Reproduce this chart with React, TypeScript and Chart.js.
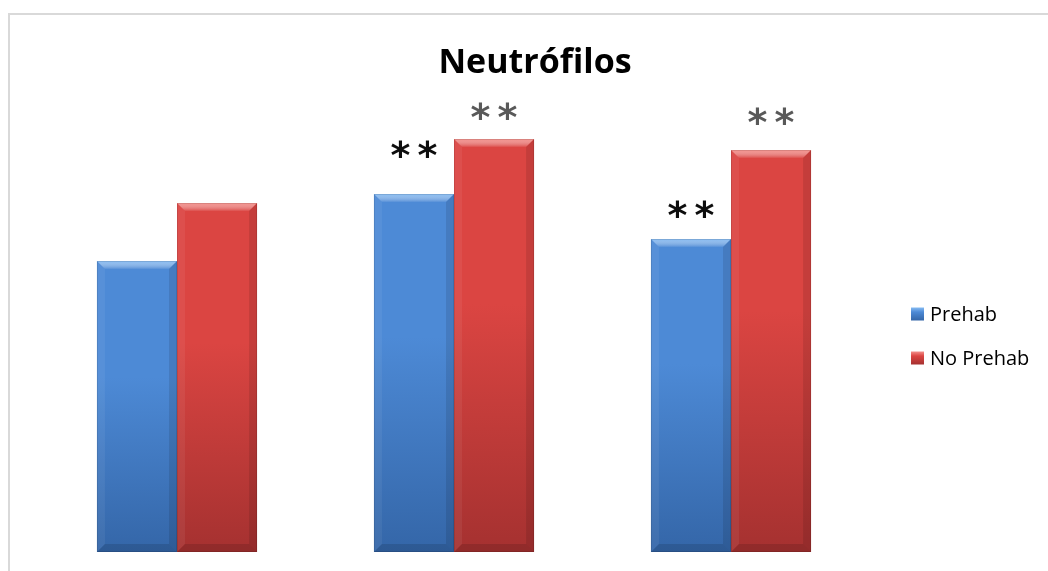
import React, { useEffect, useRef } from 'react';
import { Chart, registerables } from 'chart.js';

Chart.register(...registerables);

// ---- data ----
const chartTitle = 'Neutrófilos';
const categories = ['1', '2', '3'];
const seriesNames = ['Prehab', 'No Prehab'];
const prehab = [2.91, 3.58, 3.13];
const noPrehab = [3.49, 4.13, 4.02];
// significance markers drawn above each bar
const prehabMarks = ['', '**', '**'];
const noPrehabMarks = ['', '**', '**'];

// ---- styles ----
const palettes = [
  { top: '#4d8ad6', bottom: '#3466a8', light: '#86bbf2', mark: '#0d0d0d' },
  { top: '#db4542', bottom: '#a53130', light: '#f3908b', mark: '#595959' },
];
const markGaps = [
  [30, 45, 30],
  [30, 28, 34],
];
const BEVEL = 8;

const W = 1048;
const H = 571;

function barGradient(c: CanvasRenderingContext2D, top: number, bottom: number, p: any) {
  const g = c.createLinearGradient(0, top, 0, bottom);
  g.addColorStop(0, p.top);
  g.addColorStop(0.4, p.top);
  g.addColorStop(1, p.bottom);
  return g;
}

const framePlugin = {
  id: 'frame',
  beforeDraw(chart: any) {
    const c = chart.ctx;
    c.save();
    c.fillStyle = '#ffffff';
    c.fillRect(0, 0, W, H);
    c.strokeStyle = '#d9d9d9';
    c.lineWidth = 2;
    c.strokeRect(9, 14, W + 20, H + 20);
    c.restore();
  },
};

const bevelPlugin = {
  id: 'bevel',
  afterDatasetsDraw(chart: any) {
    const c = chart.ctx;
    chart.data.datasets.forEach((_: any, di: number) => {
      const meta = chart.getDatasetMeta(di);
      meta.data.forEach((bar: any) => {
        const { x, y, base, width } = bar.getProps(['x', 'y', 'base', 'width'], true);
        const l = x - width / 2;
        const r = x + width / 2;
        const t = y;
        const b = base;
        const p = palettes[di];
        c.save();
        // top bevel
        const tg = c.createLinearGradient(0, t, 0, t + BEVEL);
        tg.addColorStop(0, p.light);
        tg.addColorStop(1, 'rgba(255,255,255,0.05)');
        c.beginPath();
        c.moveTo(l, t);
        c.lineTo(r, t);
        c.lineTo(r - BEVEL, t + BEVEL);
        c.lineTo(l + BEVEL, t + BEVEL);
        c.closePath();
        c.fillStyle = tg;
        c.fill();
        // left bevel
        c.beginPath();
        c.moveTo(l, t);
        c.lineTo(l + BEVEL, t + BEVEL);
        c.lineTo(l + BEVEL, b - BEVEL);
        c.lineTo(l, b);
        c.closePath();
        c.fillStyle = 'rgba(255,255,255,0.06)';
        c.fill();
        // right bevel
        c.beginPath();
        c.moveTo(r, t);
        c.lineTo(r - BEVEL, t + BEVEL);
        c.lineTo(r - BEVEL, b - BEVEL);
        c.lineTo(r, b);
        c.closePath();
        c.fillStyle = 'rgba(0,0,0,0.10)';
        c.fill();
        // bottom bevel
        c.beginPath();
        c.moveTo(l, b);
        c.lineTo(l + BEVEL, b - BEVEL);
        c.lineTo(r - BEVEL, b - BEVEL);
        c.lineTo(r, b);
        c.closePath();
        c.fillStyle = 'rgba(0,0,0,0.12)';
        c.fill();
        // thin outer edge
        c.strokeStyle = 'rgba(0,0,0,0.10)';
        c.lineWidth = 1;
        c.strokeRect(l + 0.5, t + 0.5, width - 1, b - t - 1);
        c.restore();
      });
    });
  },
};

function drawStars(c: CanvasRenderingContext2D, text: string, cx: number, cy: number, color: string) {
  c.save();
  c.font = 'bold 38px "DejaVu Sans"';
  c.fillStyle = color;
  c.textAlign = 'center';
  c.textBaseline = 'alphabetic';
  const m = c.measureText('*');
  const base = cy + (m.actualBoundingBoxAscent - m.actualBoundingBoxDescent) / 2;
  const chars = text.split('');
  const step = 27;
  chars.forEach((ch, i) => {
    const dx = (i - (chars.length - 1) / 2) * step;
    c.fillText(ch, cx + dx, base);
  });
  c.restore();
}

const textPlugin = {
  id: 'texts',
  afterDraw(chart: any) {
    const c = chart.ctx;
    c.save();
    // title
    c.font = 'bold 34px "Open Sans"';
    c.fillStyle = '#000000';
    c.textAlign = 'center';
    c.textBaseline = 'alphabetic';
    c.fillText(chartTitle, 535, 73);

    // significance markers
    const marks = [prehabMarks, noPrehabMarks];
    marks.forEach((list, di) => {
      const meta = chart.getDatasetMeta(di);
      list.forEach((txt, i) => {
        if (!txt) return;
        const bar = meta.data[i];
        drawStars(c, txt, bar.x, bar.y - markGaps[di][i], palettes[di].mark);
      });
    });

    // legend
    const ys = [314, 358];
    seriesNames.forEach((name, di) => {
      const p = palettes[di];
      const cy = ys[di];
      const g = c.createLinearGradient(0, cy - 6.5, 0, cy + 6.5);
      g.addColorStop(0, p.light);
      g.addColorStop(0.35, p.top);
      g.addColorStop(1, p.bottom);
      c.fillStyle = g;
      c.fillRect(911, cy - 6.5, 13, 13);
      c.font = '20px "Open Sans"';
      c.fillStyle = '#000000';
      c.textAlign = 'left';
      c.textBaseline = 'middle';
      c.fillText(name, 930, cy + 1);
    });
    c.restore();
  },
};

export default function App() {
  const ref = useRef<HTMLCanvasElement>(null);

  useEffect(() => {
    if (!ref.current) return;
    const series = [prehab, noPrehab];
    const chart = new Chart(ref.current, {
      type: 'bar',
      data: {
        labels: categories,
        datasets: series.map((values, di) => ({
          label: seriesNames[di],
          data: values,
          borderWidth: 0,
          barPercentage: 1,
          categoryPercentage: 0.578,
          backgroundColor: (ctx: any) => {
            const ch = ctx.chart;
            const area = ch.chartArea;
            if (!area || ctx.raw === undefined) return palettes[di].top;
            const top = ch.scales.y.getPixelForValue(ctx.raw);
            return barGradient(ch.ctx, top, area.bottom, palettes[di]);
          },
        })),
      },
      options: {
        responsive: false,
        animation: false,
        layout: { padding: { left: 38.5, right: 178.5, top: 52, bottom: 19 } },
        scales: {
          x: { display: false, grid: { display: false } },
          y: { display: false, min: 0, max: 5, grid: { display: false } },
        },
        plugins: {
          legend: { display: false },
          tooltip: { enabled: false },
          title: { display: false },
        },
      },
      plugins: [framePlugin, bevelPlugin, textPlugin],
    });
    return () => chart.destroy();
  }, []);

  return (
    <div style={{ position: 'fixed', left: 0, top: 0, width: W, height: H, background: '#fff' }}>
      <canvas ref={ref} width={W} height={H} style={{ width: W, height: H, display: 'block' }} />
    </div>
  );
}
